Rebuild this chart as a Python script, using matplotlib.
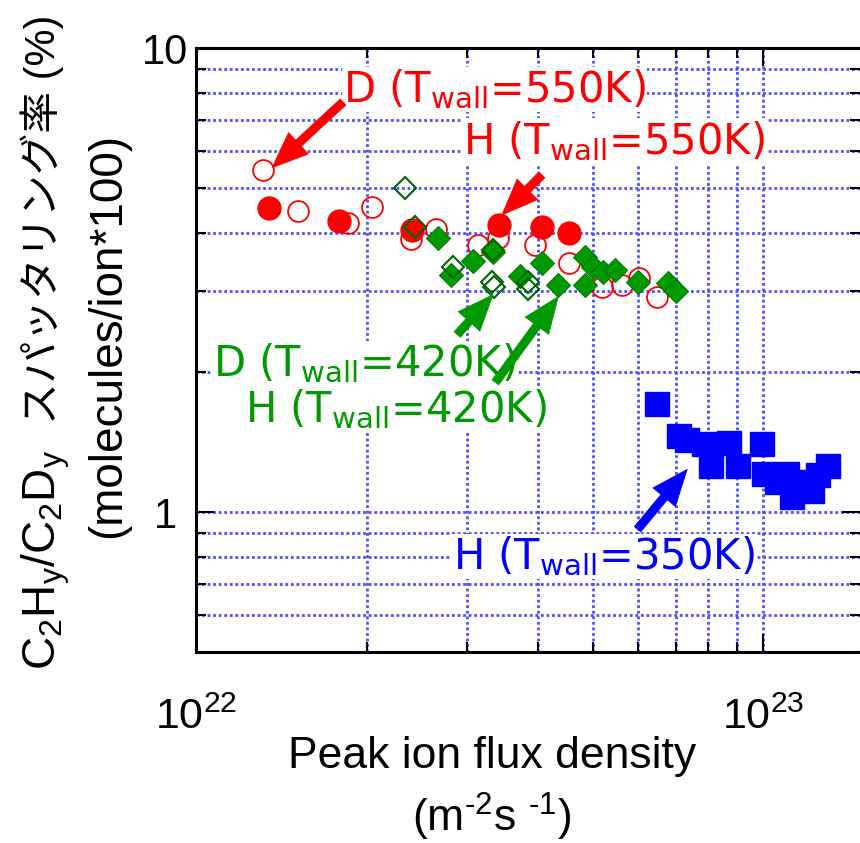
import matplotlib.pyplot as plt
from matplotlib.ticker import NullFormatter

plt.rcParams['font.family'] = ['Liberation Sans', 'Noto Sans CJK JP']
plt.rcParams['mathtext.default'] = 'regular'

# D, Twall=550K (open red circles)
d550_x = [1.31e22, 1.51e22, 1.85e22, 2.04e22, 2.39e22, 2.65e22, 3.14e22,
          3.41e22, 3.96e22, 4.55e22, 5.20e22, 5.64e22, 6.04e22, 6.50e22]
d550_y = [5.47, 4.46, 4.20, 4.55, 3.87, 4.08, 3.77, 3.90, 3.77, 3.45, 3.06,
          3.09, 3.19, 2.91]
# H, Twall=550K (filled red circles)
h550_x = [1.345e22, 1.79e22, 2.40e22, 3.42e22, 4.08e22, 4.55e22]
h550_y = [4.53, 4.25, 4.06, 4.16, 4.12, 4.00]
# D, Twall=420K (open green diamonds)
d420_x = [2.34e22, 2.43e22, 2.84e22, 3.34e22, 3.33e22, 3.35e22, 3.85e22, 3.84e22]
d420_y = [5.00, 4.12, 3.38, 3.68, 3.14, 3.06, 3.14, 3.02]
# H, Twall=420K (filled green diamonds)
h420_x = [2.67e22, 2.81e22, 3.08e22, 3.34e22, 3.73e22, 4.08e22, 4.35e22, 4.85e22,
          4.85e22, 5.01e22, 5.22e22, 5.48e22, 6.00e22, 6.80e22, 7.02e22]
h420_y = [3.90, 3.25, 3.47, 3.64, 3.22, 3.45, 3.09, 3.54, 3.09, 3.37, 3.30,
          3.33, 3.14, 3.12, 3.00]
# H, Twall=350K (blue squares)
h350_x = [6.50e22, 7.11e22, 7.34e22, 7.87e22, 8.09e22, 8.68e22, 9.03e22, 9.96e22,
          1.004e23, 1.058e23, 1.102e23, 1.125e23, 1.196e23, 1.216e23, 1.250e23, 1.302e23]
h350_y = [1.71, 1.46, 1.43, 1.40, 1.26, 1.41, 1.26, 1.40, 1.21, 1.16, 1.21,
          1.08, 1.16, 1.11, 1.20, 1.26]

red = '#ff0000'
green = '#009900'
blue = '#0000ff'

fig = plt.figure(figsize=(8.6, 8.43), dpi=100)
ax = fig.add_axes([196/860, 191/843, 664/860, 604/843])

ax.plot(d550_x, d550_y, 'o', ms=15, mfc='none', mec=red, mew=1.3, zorder=5)
ax.plot(h550_x, h550_y, 'o', ms=16.5, color=red, zorder=6)
ax.plot(h420_x, h420_y, 'D', ms=12, color=green, mec='#007a00', mew=0.8, zorder=7)
ax.plot(d420_x, d420_y, 'D', ms=11.5, mfc='none', mec='#006400', mew=1.5, zorder=8)
ax.plot(h350_x, h350_y, 's', ms=17.5, color=blue, zorder=9)

ax.set_xscale('log')
ax.set_yscale('log')
ax.set_xlim(1e22, 1.48e23)
ax.set_ylim(0.5, 10)

ax.set_xticks([1e22, 1e23])
ax.set_xticklabels(['$10^{22}$', '$10^{23}$'])
ax.set_yticks([1, 10])
ax.set_yticklabels(['1', '10'])
ax.xaxis.set_minor_formatter(NullFormatter())
ax.yaxis.set_minor_formatter(NullFormatter())

ax.grid(True, which='both', color='#4f4fff', linestyle=(0, (1, 1)), lw=2)

ax.tick_params(which='both', direction='in', top=True, right=True, width=1.5)
ax.tick_params(which='major', length=13)
ax.tick_params(which='minor', length=7)
ax.tick_params(axis='x', labelsize=31, pad=33)
ax.tick_params(axis='y', labelsize=30, pad=22)
for lbl in ax.get_yticklabels():
    lbl.set_ha('center')

for s in ['left', 'bottom', 'top']:
    ax.spines[s].set_linewidth(2.2)
ax.spines['right'].set_visible(False)

# annotations
box = dict(facecolor='white', edgecolor='none', pad=1)
ann_font = dict(family='DejaVu Sans', fontsize=30, va='baseline', ha='left', bbox=box, zorder=4)
ax.text(1.816e22, 7.65, 'D (T$_{wall}$=550K)', color=red, **ann_font)
ax.text(2.96e22, 5.92, 'H (T$_{wall}$=550K)', color=red, **ann_font)
ax.text(1.071e22, 1.961, 'D (T$_{wall}$=420K)', color=green, **ann_font)
ax.text(1.22e22, 1.561, 'H (T$_{wall}$=420K)', color=green, **ann_font)
ax.text(2.84e22, 0.754, 'H (T$_{wall}$=350K)', color=blue, **ann_font)

def arrow(tail, tip, c):
    ax.annotate('', xy=tip, xytext=tail,
                arrowprops=dict(arrowstyle='simple,head_length=1.3,head_width=1.05,tail_width=0.3',
                                color=c, lw=0.5, mutation_scale=20,
                                shrinkA=0, shrinkB=0),
                zorder=10)

arrow((1.816e22, 7.65), (1.361e22, 5.52), red)
arrow((4.07e22, 5.33), (3.46e22, 4.37), red)
arrow((2.886e22, 2.414), (3.34e22, 2.944), green)
arrow((3.37e22, 1.904), (4.35e22, 2.914), green)
arrow((6.0e22, 0.919), (7.34e22, 1.237), blue)

# axis labels
fig.text(492/860, 75/843, 'Peak ion flux density', fontsize=32, ha='center', va='baseline')
fig.text(492/860, 11/843, '(m$^{\u20102}$s $^{\u20101}$)', fontsize=32, ha='center', va='baseline')

fig.canvas.draw()
r = fig.canvas.get_renderer()
t1 = fig.text(55/860, 1 - 670/843, 'C$_2$H$_y$/C$_2$D$_y$', fontsize=33,
              rotation=90, rotation_mode='anchor', ha='left', va='baseline')
bb = t1.get_window_extent(renderer=r)
fig.text(55/860, (bb.y1 + 26)/843, 'スパッタリング率 (%)', fontsize=30,
         rotation=90, rotation_mode='anchor', ha='left', va='baseline')
fig.text(120/860, 1 - 538/843, '(molecules/ion*100)', fontsize=33,
         rotation=90, rotation_mode='anchor', ha='left', va='baseline')

fig.savefig('out.png', dpi=100)
